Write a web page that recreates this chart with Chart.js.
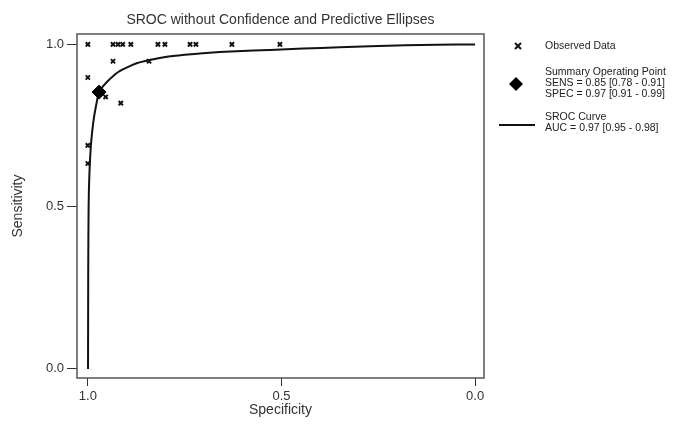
<!DOCTYPE html>
<html><head><meta charset="utf-8">
<script src="https://cdn.jsdelivr.net/npm/chart.js@4/dist/chart.umd.min.js"></script>
<style>
html,body{margin:0;padding:0;background:#fff;}
#wrap{position:relative;width:694px;height:429px;overflow:hidden;}
#c{position:absolute;left:0;top:0;}
.leg{position:absolute;left:545px;font-family:"Liberation Sans",Arial,sans-serif;font-size:10.5px;color:#222;line-height:11px;white-space:nowrap;}
.mk{position:absolute;}
</style></head><body>
<div id="wrap">
<canvas id="c" width="694" height="429"></canvas>
<svg class="mk" style="left:513px;top:41px" width="10" height="10"><path d="M2 2 L8 8 M8 2 L2 8" stroke="#111" stroke-width="2"/></svg>
<div class="leg" style="top:40px">Observed Data</div>
<svg class="mk" style="left:509px;top:77px" width="14" height="14"><path d="M7 0 L14 7 L7 14 L0 7 Z" fill="#000"/></svg>
<div class="leg" style="top:66px">Summary Operating Point<br>SENS = 0.85 [0.78 - 0.91]<br>SPEC = 0.97 [0.91 - 0.99]</div>
<svg class="mk" style="left:499px;top:123px" width="38" height="4"><path d="M0 2 L36 2" stroke="#111" stroke-width="2"/></svg>
<div class="leg" style="top:111px">SROC Curve<br>AUC = 0.97 [0.95 - 0.98]</div>
</div>
<script>
const chartTitle = "SROC without Confidence and Predictive Ellipses";
const xTitle = "Specificity";
const yTitle = "Sensitivity";
const tickVals = [0.0, 0.5, 1.0];

const obsSpec = [1.0, 0.935, 0.922, 0.910, 0.889, 0.819, 0.801, 0.736, 0.721, 0.628, 0.504, 0.935, 1.0, 0.954, 0.915, 0.842, 1.0, 1.0];
const obsSens = [1.0, 1.0, 1.0, 1.0, 1.0, 1.0, 1.0, 1.0, 1.0, 1.0, 1.0, 0.948, 0.898, 0.838, 0.819, 0.948, 0.689, 0.633];

const summarySpec = [0.971];
const summarySens = [0.853];

const curveSpec = [0.9995, 0.999, 0.998, 0.996, 0.992, 0.986, 0.979, 0.971, 0.96, 0.947, 0.925, 0.904, 0.874, 0.84, 0.80, 0.75, 0.703, 0.616, 0.53, 0.444, 0.35, 0.271, 0.18, 0.099, 0.0];
const curveSens = [0.0, 0.3, 0.5, 0.6, 0.69, 0.76, 0.81, 0.853, 0.872, 0.889, 0.912, 0.926, 0.942, 0.952, 0.961, 0.968, 0.973, 0.979, 0.983, 0.987, 0.991, 0.994, 0.997, 0.999, 1.0];

const toPts = (xs, ys) => xs.map((x, i) => ({x: x, y: ys[i]}));
const FONT = '"Liberation Sans", Arial, sans-serif';

const framePlugin = {
  id: 'frame',
  afterDatasetsDraw(chart) {
    const a = chart.chartArea, ctx = chart.ctx;
    ctx.save();
    ctx.strokeStyle = '#555';
    ctx.lineWidth = 1.5;
    ctx.strokeRect(a.left, a.top, a.right - a.left, a.bottom - a.top);
    ctx.fillStyle = '#333';
    ctx.font = '14px ' + FONT;
    ctx.textAlign = 'center';
    ctx.textBaseline = 'middle';
    ctx.fillText(chartTitle, (a.left + a.right) / 2, 20);
    ctx.restore();
  }
};

new Chart(document.getElementById('c'), {
  type: 'scatter',
  data: {
    datasets: [
      {label: 'Summary Operating Point', data: toPts(summarySpec, summarySens), pointStyle: 'rectRot', pointRadius: 7, backgroundColor: '#000', borderColor: '#000', borderWidth: 1},
      {label: 'Observed Data', data: toPts(obsSpec, obsSens), pointStyle: 'crossRot', pointRadius: 3, borderColor: '#111', borderWidth: 2},
      {label: 'SROC Curve', data: toPts(curveSpec, curveSens), showLine: true, pointRadius: 0, borderColor: '#111', borderWidth: 2, tension: 0.25, fill: false}
    ]
  },
  options: {
    responsive: false,
    animation: false,
    events: [],
    layout: {padding: {left: 0, top: 34, right: 210, bottom: 0}},
    plugins: {legend: {display: false}, tooltip: {enabled: false}, title: {display: false}},
    scales: {
      x: {
        type: 'linear', reverse: true, min: -0.023, max: 1.028,
        afterBuildTicks: s => { s.ticks = tickVals.map(v => ({value: v})); },
        afterFit: s => { s.height = 51; },
        grid: {drawOnChartArea: false, drawTicks: true, tickLength: 8, color: '#333', lineWidth: 1},
        border: {display: false},
        ticks: {callback: v => Number(v).toFixed(1), font: {family: FONT, size: 13}, color: '#333', padding: 3, maxRotation: 0},
        title: {display: true, text: xTitle, font: {family: FONT, size: 14}, color: '#333', padding: {top: 4, bottom: 10}}
      },
      y: {
        type: 'linear', min: -0.028, max: 1.032,
        afterBuildTicks: s => { s.ticks = tickVals.map(v => ({value: v})); },
        afterFit: s => { s.width = 77; },
        grid: {drawOnChartArea: false, drawTicks: true, tickLength: 10, color: '#333', lineWidth: 1},
        border: {display: false},
        ticks: {callback: v => Number(v).toFixed(1), font: {family: FONT, size: 13}, color: '#333', padding: 3},
        title: {display: true, text: yTitle, font: {family: FONT, size: 14}, color: '#333', padding: {top: 10, bottom: 4}}
      }
    }
  },
  plugins: [framePlugin]
});
</script>
</body></html>
